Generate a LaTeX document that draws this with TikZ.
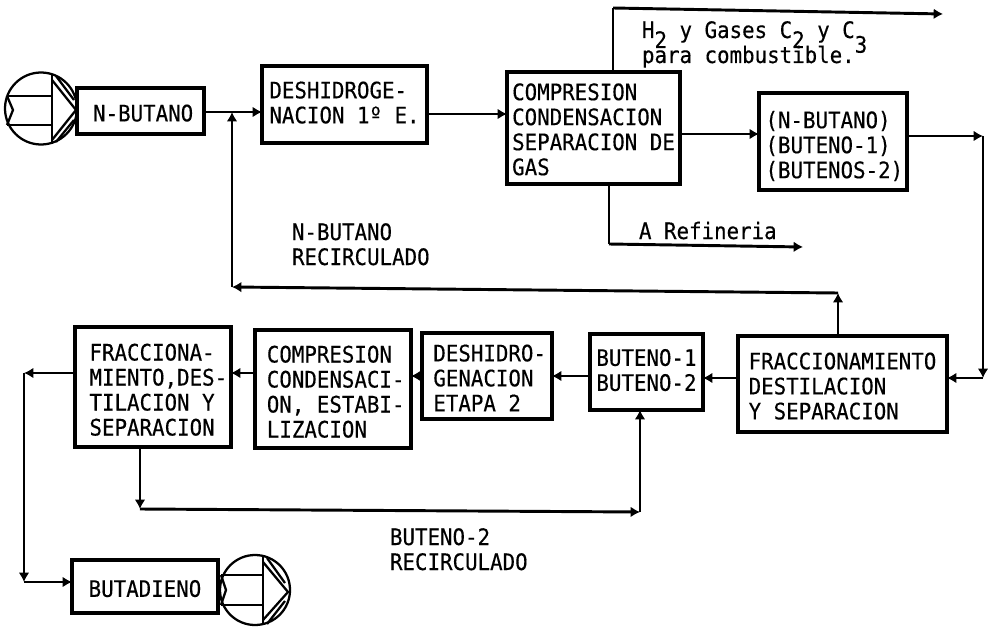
\documentclass[tikz,border=0pt]{standalone}
\usepackage{fontspec}
\setmainfont[FakeBold=0.35,FakeStretch=0.917]{DejaVu Sans Mono}
\usetikzlibrary{arrows.meta,calc}
\tikzset{
  procbox/.style={draw=black,line width=2.6pt,inner sep=0pt,outer sep=0pt,line join=miter,
    font=\fontsize{17}{18.75}\selectfont},
  flow/.style={draw=black,line width=2.2pt,-{Latex[length=7pt,width=8pt]}},
  plainflow/.style={draw=black,line width=2.2pt},
  lbl/.style={inner sep=0pt,outer sep=0pt,anchor=base west,font=\fontsize{17}{18.75}\selectfont},
  pump/.style={draw=black,circle,line width=1.7pt,inner sep=0pt,outer sep=0pt},
  pumpline/.style={draw=black,line width=1.7pt},
}
% name, x1, y1, x2, y2, extra left space, downward text shift, text
\newcommand{\procnode}[8]{%
  \pgfmathsetmacro{\bw}{(#4-#2)*0.75}%
  \pgfmathsetmacro{\bh}{(#5-#3)*0.75}%
  \node[procbox,minimum width=\bw pt,minimum height=\bh pt] (#1) at ({(#2+#4)/2},{(#3+#5)/2})
    {\raisebox{-#7pt}[\height][\depth]{\begin{tabular}{@{\hspace{#6pt}}l@{}}#8\end{tabular}}};%
}
\newcommand{\low}[2]{\raisebox{#1pt}{#2}}
\begin{document}
\begin{tikzpicture}[x=0.75pt,y=-0.75pt]
\useasboundingbox (0,0) rectangle (991,627);
\procnode{nbut}{77}{88}{204}{134}{4}{4}{N-BUTANO}
\procnode{deh}{262}{66}{427}{143}{0}{1}{DESHIDROGE-\\NACION 1º E.}
\procnode{comp}{507}{72}{680}{184}{0}{3.5}{COMPRESION\\CONDENSACION\\SEPARACION DE\\GAS}
\procnode{mix}{759}{93}{907}{190}{2}{5}{(N-BUTANO)\\(BUTENO-1)\\(BUTENOS-2)}
\procnode{frb}{738}{336}{947}{432}{0}{4}{FRACCIONAMIENTO\\DESTILACION\\Y SEPARACION}
\procnode{but}{590}{334}{703}{410}{0}{1}{BUTENO-1\\BUTENO-2}
\procnode{deh2}{422}{333}{552}{419}{4}{4}{DESHIDRO-\\GENACION\\ETAPA 2}
\procnode{comp2}{255}{330}{411}{448}{4}{4.5}{COMPRESION\\CONDENSACI-\\ON, ESTABI-\\LIZACION}
\procnode{fra}{75}{327}{231}{447}{8}{4.5}{FRACCIONA-\\MIENTO,DES-\\TILACION Y\\SEPARACION}
\procnode{bdn}{72}{560}{218}{613}{0}{4}{BUTADIENO}

% pumps
\node[pump,minimum size=54pt] (p1) at (41,108.5) {};
\draw[pumpline] (52,74) -- (52,144);
\draw[pumpline] (7,96) -- (52,96) (7,125) -- (52,125);
\draw[pumpline] (7,96) -- (13,110) -- (7,125);
\draw[pumpline] (52,80) -- (76,110) -- (52,140);
\draw[pumpline] (56,76) -- (74,100) (56,142) -- (74,120);

\node[pump,minimum size=52.5pt] (p2) at (255,590) {};
\draw[pumpline] (263,556) -- (263,624);
\draw[pumpline] (221,575) -- (263,575) (221,605) -- (263,605);
\draw[pumpline] (221,575) -- (226,590) -- (221,605);
\draw[pumpline] (263,562) -- (288,592) -- (263,620);
\draw[pumpline] (267,558) -- (285,583) (267,624) -- (285,601);

% row references
\coordinate (r1) at (0,112);
\coordinate (r2) at (0,114);
\coordinate (r3) at (0,134);
\coordinate (r4) at (0,136);
\coordinate (r5) at (0,378);
\coordinate (r6) at (0,376);
\coordinate (r7) at (0,373);
\coordinate (c1) at (613,0);
\coordinate (c2) at (609,0);
\coordinate (c3) at (838,0);
\coordinate (c4) at (140,0);
\coordinate (c5) at (640,0);

% junctions
\coordinate (t1) at (613,8);
\coordinate (t2) at (943,14);
\coordinate (a1) at (609,244);
\coordinate (a2) at (803,247);
\coordinate (m1) at (983,136);
\coordinate (m2) at (983,378);
\coordinate (n1) at (838,293);
\coordinate (n2) at (232,287);
\coordinate (n3) at (232,112);
\coordinate (f1) at (24,373);
\coordinate (f2) at (24,582);
\coordinate (g1) at (140,509);
\coordinate (g2) at (640,512);

% connectors
\draw[flow] (nbut.east |- r1) -- (deh.west |- r1);
\draw[flow] (deh.east |- r2) -- (comp.west |- r2);
\draw[flow] (comp.east |- r3) -- (mix.west |- r3);
\draw[plainflow] (comp.north -| c1) -- (t1);
\draw[flow] (t1) -- (t2);
\draw[plainflow] (comp.south -| c2) -- (a1);
\draw[flow] (a1) -- (a2);
\draw[flow] (mix.east |- r4) -- (m1);
\draw[flow] (m1) -- (m2);
\draw[flow] (m2) -- (frb.east |- m2);
\draw[flow] (frb.north -| c3) -- (n1);
\draw[flow] (n1) -- (n2);
\draw[flow] (n2) -- (n3);
\draw[flow] (frb.west |- r5) -- (but.east |- r5);
\draw[flow] (but.west |- r6) -- (deh2.east |- r6);
\draw[flow] (deh2.west |- r6) -- (comp2.east |- r6);
\draw[flow] (comp2.west |- r7) -- (fra.east |- r7);
\draw[flow] (fra.west |- r7) -- (f1);
\draw[flow] (f1) -- (f2);
\draw[flow] (f2) -- (bdn.west |- f2);
\draw[flow] (fra.south -| c4) -- (g1);
\draw[flow] (g1) -- (g2);
\draw[flow] (g2) -- (but.south -| c5);

% labels
\node[lbl] (lh) at (642,38) {H\low{-7.5}{2} y Gases C\low{-7.5}{2} y C\low{-11}{3}};
\node[lbl] (lp) at (642,63) {para combustible.};
\node[lbl] (lr) at (639,239) {A Refineria};
\node[lbl] (ln1) at (292,240) {N-BUTANO};
\node[lbl] (ln2) at (292,265) {RECIRCULADO};
\node[lbl] (lb1) at (390,545) {BUTENO-2};
\node[lbl] (lb2) at (390,570) {RECIRCULADO};
\end{tikzpicture}
\end{document}
